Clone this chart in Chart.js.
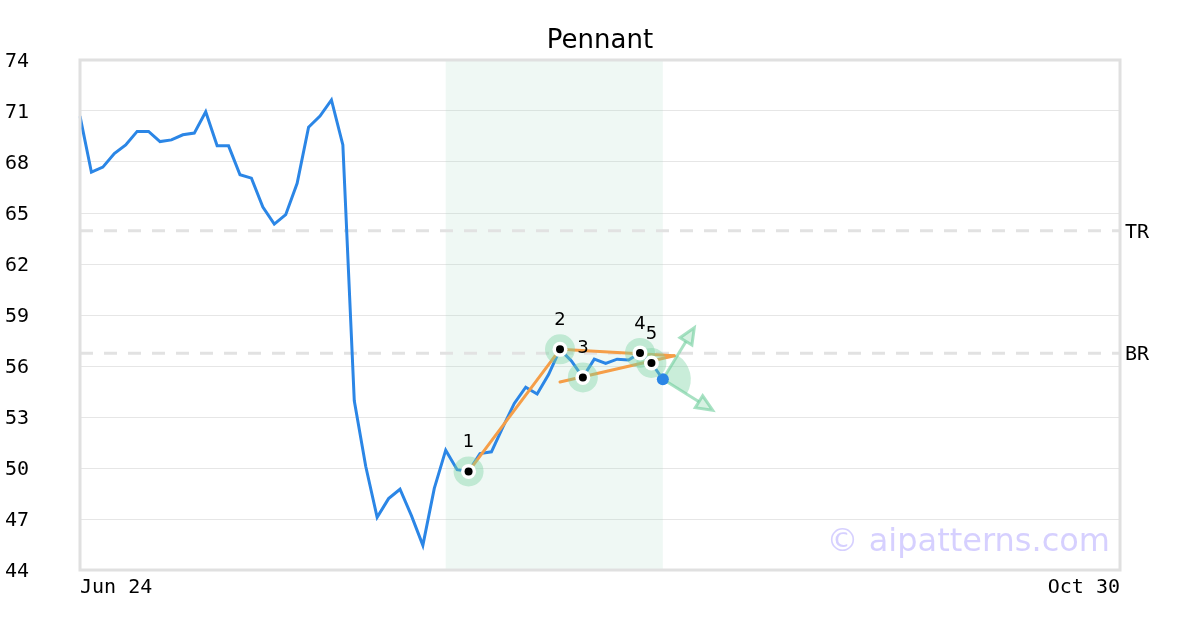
<!DOCTYPE html>
<html>
<head>
<meta charset="utf-8">
<title>Pennant</title>
<script src="https://cdn.jsdelivr.net/npm/chart.js@4.4.1/dist/chart.umd.min.js"></script>
<style>
  html, body { margin: 0; padding: 0; background: #ffffff; }
  #pennantChart { display: block; width: 1200px; height: 630px; }
</style>
</head>
<body>
<canvas id="pennantChart" width="1200" height="630"></canvas>
<script>
// trading days shown on the x axis (only first and last are labelled)
const dates = [
  'Jun 24','Jun 25','Jun 26','Jun 27','Jun 28',
  'Jul 1','Jul 2','Jul 3','Jul 5','Jul 8','Jul 9','Jul 10','Jul 11','Jul 12','Jul 15','Jul 16','Jul 17','Jul 18','Jul 19','Jul 22','Jul 23','Jul 24','Jul 25','Jul 26','Jul 29','Jul 30','Jul 31',
  'Aug 1','Aug 2','Aug 5','Aug 6','Aug 7','Aug 8','Aug 9','Aug 12','Aug 13','Aug 14','Aug 15','Aug 16','Aug 19','Aug 20','Aug 21','Aug 22','Aug 23','Aug 26','Aug 27','Aug 28','Aug 29','Aug 30',
  'Sep 2','Sep 3','Sep 4','Sep 5','Sep 6','Sep 9','Sep 10','Sep 11','Sep 12','Sep 13','Sep 16','Sep 17','Sep 18','Sep 19','Sep 20','Sep 23','Sep 24','Sep 25','Sep 26','Sep 27','Sep 30',
  'Oct 1','Oct 2','Oct 3','Oct 4','Oct 7','Oct 8','Oct 9','Oct 10','Oct 11','Oct 14','Oct 15','Oct 16','Oct 17','Oct 18','Oct 21','Oct 22','Oct 23','Oct 24','Oct 25','Oct 28','Oct 29','Oct 30'
];

// closing prices
const closes = [
  70.7, 67.4, 67.7, 68.5, 69.0, 69.8, 69.8, 69.2, 69.3, 69.6,
  69.7, 70.95, 68.95, 68.95, 67.25, 67.05, 65.35, 64.35, 64.9, 66.75,
  70.05, 70.7, 71.65, 69.0, 53.95, 50.1, 47.1, 48.2, 48.75, 47.2,
  45.45, 48.8, 51.05, 49.9, 49.8, 50.85, 50.95, 52.4, 53.8, 54.75,
  54.35, 55.5, 56.98, 56.3, 55.33, 56.4, 56.15, 56.4, 56.35, 56.77,
  56.18, 55.22
];

const yTicks = { min: 44, max: 74, step: 3 };

// pattern pivots
const pivotIdx = [34, 42, 44, 49, 50];
const pivotVal = [49.8, 56.98, 55.33, 56.77, 56.18];
const pivotTags = ['1', '2', '3', '4', '5'];

// pattern lines, as [index, price] pairs
const poleLine = [[34, 49.8], [42, 56.98]];
const upperTrend = [[42, 56.98], [52, 56.6]];
const lowerTrend = [[42, 55.06], [52, 56.6]];
const arrowUp = [[51, 55.22], [53.75, 58.25]];
const arrowDown = [[51, 55.22], [55.35, 53.4]];

const levels = [
  { tag: 'TR', value: 63.95 },
  { tag: 'BR', value: 56.75 }
];
const bandRange = [32, 51];

const BLUE = '#2b86e6';
const ORANGE = 'rgb(245,158,72)';
const HALO = 'rgba(120,210,160,0.4)';
const ARROW = 'rgba(110,205,155,0.6)';

function drawArrow(ctx, x0, y0, x1, y1) {
  const ang = Math.atan2(y1 - y0, x1 - x0);
  const len = 16, half = 7;
  const bx = x1 - len * Math.cos(ang), by = y1 - len * Math.sin(ang);
  ctx.beginPath();
  ctx.moveTo(x0, y0);
  ctx.lineTo(bx, by);
  ctx.stroke();
  ctx.beginPath();
  ctx.moveTo(x1, y1);
  ctx.lineTo(bx + half * Math.sin(ang), by - half * Math.cos(ang));
  ctx.lineTo(bx - half * Math.sin(ang), by + half * Math.cos(ang));
  ctx.closePath();
  ctx.fill();
  ctx.stroke();
}

const overlay = {
  id: 'overlay',
  beforeDatasetsDraw(chart) {
    const { ctx, chartArea: a, scales: { x, y } } = chart;
    ctx.save();
    // highlighted pattern window
    const bx0 = x.getPixelForValue(bandRange[0]);
    const bx1 = x.getPixelForValue(bandRange[1]);
    ctx.fillStyle = 'rgba(160,215,190,0.17)';
    ctx.fillRect(bx0, a.top, bx1 - bx0, a.bottom - a.top);

    // resistance / breakout levels
    ctx.setLineDash([13, 11]);
    ctx.strokeStyle = '#e2e2e2';
    ctx.lineWidth = 3;
    ctx.font = '20px "DejaVu Sans Mono"';
    ctx.fillStyle = '#000';
    ctx.textAlign = 'left';
    ctx.textBaseline = 'middle';
    levels.forEach(l => {
      const py = y.getPixelForValue(l.value);
      ctx.beginPath();
      ctx.moveTo(a.left, py);
      ctx.lineTo(a.right, py);
      ctx.stroke();
      ctx.fillText(l.tag, a.right + 5, py + 2);
    });
    ctx.restore();
  },
  afterDatasetsDraw(chart) {
    const { ctx, chartArea: a, scales: { x, y } } = chart;
    const px = p => [x.getPixelForValue(p[0]), y.getPixelForValue(p[1])];
    ctx.save();

    // orange pattern lines
    ctx.strokeStyle = ORANGE;
    ctx.lineWidth = 3;
    ctx.lineCap = 'round';
    [poleLine, upperTrend, lowerTrend].forEach(seg => {
      const [x0, y0] = px(seg[0]);
      const [x1, y1] = px(seg[1]);
      ctx.beginPath();
      ctx.moveTo(x0, y0);
      ctx.lineTo(x1, y1);
      ctx.stroke();
    });

    // projection wedge + arrows
    const [cx, cy] = px(arrowUp[0]);
    const [ux, uy] = px(arrowUp[1]);
    const [dx, dy] = px(arrowDown[1]);
    ctx.fillStyle = 'rgba(120,210,160,0.4)';
    ctx.beginPath();
    ctx.moveTo(cx, cy);
    ctx.arc(cx, cy, 28, Math.atan2(uy - cy, ux - cx), Math.atan2(dy - cy, dx - cx));
    ctx.closePath();
    ctx.fill();
    ctx.strokeStyle = ARROW;
    ctx.fillStyle = 'rgba(120,210,160,0.3)';
    ctx.lineWidth = 3;
    ctx.lineCap = 'butt';
    drawArrow(ctx, cx, cy, ux, uy);
    drawArrow(ctx, cx, cy, dx, dy);

    // last close marker
    ctx.fillStyle = BLUE;
    ctx.beginPath();
    ctx.arc(cx, cy, 6, 0, Math.PI * 2);
    ctx.fill();

    // pivots
    pivotIdx.forEach((idx, k) => {
      const [qx, qy] = px([idx, pivotVal[k]]);
      ctx.fillStyle = HALO;
      ctx.beginPath();
      ctx.arc(qx, qy, 15, 0, Math.PI * 2);
      ctx.fill();
    });
    pivotIdx.forEach((idx, k) => {
      const [qx, qy] = px([idx, pivotVal[k]]);
      ctx.fillStyle = '#fff';
      ctx.beginPath();
      ctx.arc(qx, qy, 7.5, 0, Math.PI * 2);
      ctx.fill();
      ctx.fillStyle = '#000';
      ctx.beginPath();
      ctx.arc(qx, qy, 4, 0, Math.PI * 2);
      ctx.fill();
      ctx.font = '18px "DejaVu Sans"';
      ctx.textAlign = 'center';
      ctx.textBaseline = 'middle';
      ctx.fillText(pivotTags[k], qx, qy - 29);
    });

    // watermark
    ctx.font = '32px "DejaVu Sans"';
    ctx.fillStyle = 'rgba(120,100,255,0.3)';
    ctx.textAlign = 'right';
    ctx.textBaseline = 'alphabetic';
    ctx.fillText('\u00a9 aipatterns.com', a.right - 10, a.bottom - 19);

    // plot frame
    ctx.strokeStyle = '#e0e0e0';
    ctx.lineWidth = 3;
    ctx.strokeRect(a.left, a.top, a.right - a.left, a.bottom - a.top);

    // title
    ctx.font = '26px "DejaVu Sans"';
    ctx.fillStyle = '#000';
    ctx.textAlign = 'center';
    ctx.fillText('Pennant', chart.width / 2, 48);
    ctx.restore();
  }
};

Chart.defaults.font.family = '"DejaVu Sans Mono"';
Chart.defaults.font.size = 20;
Chart.defaults.color = '#000';

const ctx = document.getElementById('pennantChart').getContext('2d');
new Chart(ctx, {
  type: 'line',
  data: {
    labels: dates,
    datasets: [{
      label: 'Close',
      data: closes,
      borderColor: BLUE,
      borderWidth: 3,
      pointRadius: 0,
      tension: 0,
      fill: false
    }]
  },
  options: {
    responsive: false,
    animation: false,
    layout: { padding: { left: 5, top: 60, right: 80, bottom: 0 } },
    plugins: {
      legend: { display: false },
      title: { display: false },
      tooltip: { enabled: false }
    },
    scales: {
      x: {
        grid: { display: false, drawTicks: false },
        border: { display: false },
        ticks: {
          autoSkip: false,
          maxRotation: 0,
          align: 'inner',
          padding: 6,
          callback: (v, i) => (i === 0 || i === dates.length - 1) ? dates[i] : ''
        },
        afterFit: s => { s.height = 60; }
      },
      y: {
        min: yTicks.min,
        max: yTicks.max,
        ticks: { stepSize: yTicks.step, crossAlign: 'far', labelOffset: 2 },
        grid: { color: '#e6e6e6', drawTicks: false },
        border: { display: false },
        afterFit: s => { s.width = 75; }
      }
    }
  },
  plugins: [overlay]
});
</script>
</body>
</html>
